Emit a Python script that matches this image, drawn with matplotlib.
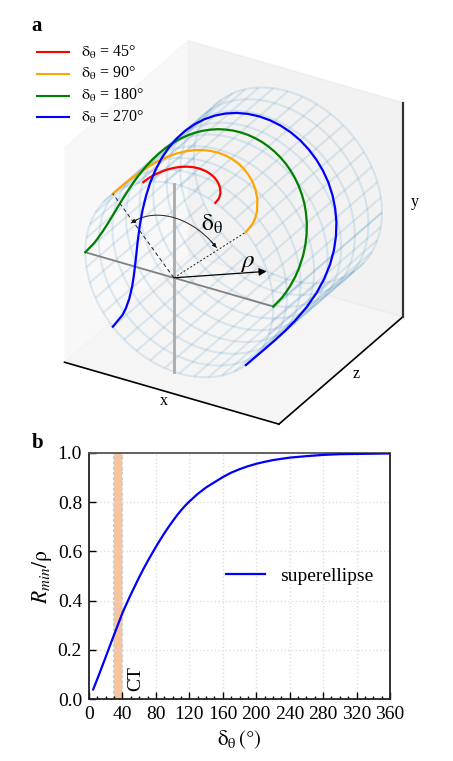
import numpy as np
import matplotlib
matplotlib.use("Agg")
import matplotlib.pyplot as plt
from matplotlib.ticker import MultipleLocator
from mpl_toolkits.mplot3d import proj3d

plt.rcParams['font.family'] = ['Liberation Serif', 'DejaVu Serif']
plt.rcParams['mathtext.fontset'] = 'stix'

# curves on the cylinder: angle away from the top (degrees) and depth in units of rho
# each curve is symmetric about the top, so only one half is listed
off_45 = [22.5, 22.05, 21.6, 20.25, 18, 15.75, 13.5, 11.25, 9, 6.75, 4.5, 2.25, 0]
dep_45 = [0, .071, .10, .157, .216, .257, .288, .312, .33, .343, .353, .358, .36]
off_90 = [45, 44.1, 43.2, 41.85, 40.5, 36, 31.5, 27, 22.5, 18, 13.5, 9, 4.5, 0]
dep_90 = [0, .139, .196, .258, .305, .42, .50, .56, .606, .642, .668, .686, .697, .70]
off_180 = [90, 89.1, 88.2, 86.4, 83.7, 81, 76.5, 72, 67.5, 63, 58.5, 54, 49.5, 45,
           40.5, 36, 31.5, 27, 22.5, 18, 13.5, 9, 4.5, 0]
dep_180 = [0, .159, .224, .316, .415, .491, .594, .676, .745, .805, .856, .902, .941, .976,
           1.006, 1.033, 1.056, 1.075, 1.091, 1.104, 1.115, 1.121, 1.126, 1.127]
off_270 = [135, 133.65, 132.3, 129.6, 125.55, 121.5, 114.75, 108, 101.25, 94.5, 87.75, 81, 74.25,
           67.5, 60.75, 54, 47.25, 40.5, 33.75, 27, 20.25, 13.5, 6.75, 0]
dep_270 = [0, .207, .292, .411, .54, .64, .774, .881, .970, 1.048, 1.116, 1.174, 1.226,
           1.271, 1.311, 1.346, 1.375, 1.40, 1.421, 1.439, 1.452, 1.461, 1.466, 1.468]

curve_offs = [off_45, off_90, off_180, off_270]
curve_deps = [dep_45, dep_90, dep_180, dep_270]
curve_colors = ['red', 'orange', 'green', 'blue']
curve_names = ['45', '90', '180', '270']

# panel b
delta = [5, 10, 15, 20, 25, 30, 35, 40, 45, 50, 55, 60, 65, 70, 75, 80, 85, 90, 95, 100, 105, 110, 115, 120,
         130, 140, 150, 160, 170, 180, 190, 200, 210, 220, 230, 240, 260, 280, 300, 320, 340, 360]
rmin = [.04, .083, .127, .172, .217, .262, .306, .35, .388, .425, .46, .495, .528, .559, .589, .618, .646, .673,
        .698, .722, .745, .766, .785, .802, .833, .859, .880, .901, .919, .933, .945, .955, .963, .97, .975, .98,
        .986, .991, .994, .995, .996, .997]
ct_range = [30, 40]

W, H = 453, 761
def px(x, y):
    return x / W, 1 - y / H

fig = plt.figure(figsize=(W / 100, H / 100), dpi=100)

# ---- a
ax = fig.add_axes([1 / W, 1 - (238.5 + 226.5) / H, 1, W / H], projection='3d',
                  proj_type='ortho', computed_zorder=False)
ax.patch.set_alpha(0)
ax.view_init(elev=30, azim=-60)
ax.set_box_aspect((1, 1, 1), zoom=.919)
lim = 1.14
ax.set_xlim(-lim, lim)
ax.set_ylim(-lim, lim)
ax.set_zlim(-lim, lim)
ax.set_xticks([])
ax.set_yticks([])
ax.set_zticks([])
ax.grid(False)
ax.xaxis.line.set_linewidth(1.2)
ax.yaxis.line.set_linewidth(1.2)
ax.zaxis.line.set_linewidth(1.6)
ax.zaxis.line.set_color('#333333')

# y of the 3d axes is the cylinder axis, z of the 3d axes is the picture's y
tt = np.radians(np.linspace(0, 360, 121))
ll = np.linspace(-1, 1, 9)
T, L = np.meshgrid(tt, ll)
ax.plot_wireframe(np.cos(T), L, np.sin(T), rstride=1, cstride=3, color='C0', alpha=.13, lw=1.5, zorder=1)

x0 = -.058
ax.plot([-1, 1], [-1, -1], [0, 0], color='gray', lw=1.3, zorder=2)
ax.plot([x0, x0], [-1, -1], [-1, 1], color='#aaaaaa', lw=2, zorder=2)

for of, d, c in zip(curve_offs, curve_deps, curve_colors):
    th = np.radians(90 + np.concatenate([of, -np.array(of[-2::-1])]))
    dd = np.concatenate([d, d[-2::-1]])
    ax.plot(np.cos(th), dd - 1, np.sin(th), color=c, lw=1.6, zorder=3)

P = ax.get_proj()
def p3(x, y, z):
    u, v, _ = proj3d.proj_transform(x, y, z, P)
    return u, v

o = p3(x0, -1, 0)
c45 = np.cos(np.pi / 4)
ax.plot([x0, -c45], [-1, -1], [0, c45], color='#222222', lw=.7, ls=(0, (4, 3)), zorder=4)
ax.plot([x0, c45], [-1, -1], [0, c45], color='#222222', lw=.7, ls=(0, (2, 2)), zorder=4)

aa = np.radians(np.linspace(45, 135, 60))
ax.plot(x0 + .64 * np.cos(aa), -1 + 0 * aa, .64 * np.sin(aa), color='#222222', lw=.7, zorder=4)
for a1, a2 in [(52, 45), (128, 135)]:
    s = p3(x0 + .64 * np.cos(np.radians(a1)), -1, .64 * np.sin(np.radians(a1)))
    e = p3(x0 + .64 * np.cos(np.radians(a2)), -1, .64 * np.sin(np.radians(a2)))
    ax.annotate('', xy=e, xytext=s, xycoords='data', textcoords='data',
                arrowprops=dict(arrowstyle='-|>', color='k', lw=.6, mutation_scale=6, shrinkA=0, shrinkB=0))

e = p3(x0 + .68, -1 + .53, 0)
ax.annotate('', xy=e, xytext=o, xycoords='data', textcoords='data',
            arrowprops=dict(arrowstyle='-|>', color='k', lw=.9, mutation_scale=11, shrinkA=0, shrinkB=0))

for (tx, ty), s, fs in [((212, 224), r'$\mathrm{\delta_\theta}$', 17),
                        ((247, 263), r'$\rho$', 18)]:
    fig.text(*px(tx, ty), s, fontsize=fs, ha='center', va='center')

fig.text(*px(164, 401), 'x', fontsize=11.5, ha='center', va='center')
fig.text(*px(356, 374), 'z', fontsize=11.5, ha='center', va='center')
fig.text(*px(415, 202), 'y', fontsize=11.5, ha='center', va='center')
fig.text(*px(31, 26), 'a', fontsize=15, fontweight='bold', ha='left', va='center')
fig.text(*px(32, 443), 'b', fontsize=15, fontweight='bold', ha='left', va='center')

for i in range(4):
    yy = 52 + 21.8 * i
    fig.add_artist(plt.Line2D([37 / W, 69 / W], [1 - yy / H] * 2, color=curve_colors[i], lw=1.5))
    fig.text(*px(81, yy), r'$\mathrm{\delta_\theta}$ = ' + curve_names[i] + '°', fontsize=11.5, ha='left', va='center')

# ---- b
ax2 = fig.add_axes([89 / W, 1 - 699.3 / H, 301 / W, 246.6 / H])
ax2.set_xlim(0, 360)
ax2.set_ylim(0, 1)
ax2.axvspan(ct_range[0], ct_range[1], color='#f9c49c', lw=0, zorder=1)
for v in ct_range:
    ax2.axvline(v, color='#cccccc', lw=1.5, ls=(0, (1.5, 1)), zorder=1.5)
ax2.plot(delta, rmin, color='blue', lw=1.6, label='superellipse', zorder=3)
ax2.set_xticks(np.arange(0, 361, 40))
ax2.xaxis.set_minor_locator(MultipleLocator(10))
ax2.set_yticks(np.arange(0, 1.01, .2))
ax2.tick_params(axis='both', which='major', direction='in', length=5, width=1, labelsize=14, pad=5)
ax2.tick_params(axis='x', which='minor', direction='in', length=2.5, width=1)
ax2.grid(True, which='major', color='#dddddd', ls=':', lw=1)
for sp in ax2.spines.values():
    sp.set_linewidth(1.3)
    sp.set_color('#222222')
ax2.spines['top'].set_color('#555555')
ax2.set_xlabel(r'$\mathrm{\delta_\theta}\,(°)$', fontsize=15, labelpad=4)
ax2.set_ylabel(r'$R_{min}/\mathrm{\rho}$', fontsize=15.5, labelpad=3)
ax2.text(56, .085, 'CT', rotation=90, fontsize=14, ha='center', va='center')
ax2.legend(loc='center', bbox_to_anchor=(.70, .5), frameon=False, fontsize=14, handlelength=2.0, handletextpad=.75)

fig.savefig('out.png', dpi=100)
